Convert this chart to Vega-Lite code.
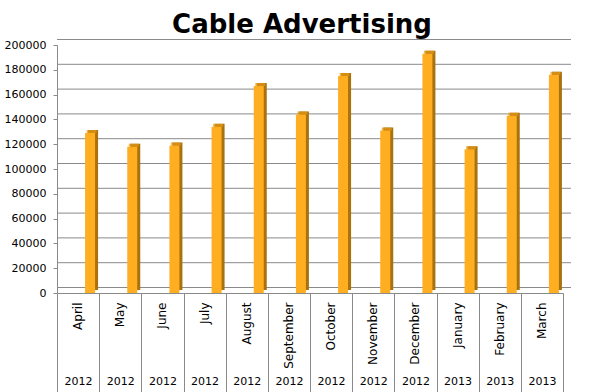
{
  "$schema": "https://vega.github.io/schema/vega-lite/v6.json",
  "width": 506,
  "height": 248,
  "autosize": {"type": "none"},
  "padding": {"left": 57, "top": 45, "right": 28, "bottom": 99},
  "background": "white",
  "title": {
    "text": "Cable Advertising",
    "font": "DejaVu Sans",
    "fontSize": 26,
    "fontWeight": "bold",
    "color": "black",
    "anchor": "middle",
    "dx": -8,
    "baseline": "alphabetic",
    "offset": -20
  },
  "datasets": {
    "sales": [
      {"period": "April 2012", "value": 129000},
      {"period": "May 2012", "value": 118000},
      {"period": "June 2012", "value": 119000},
      {"period": "July 2012", "value": 134000},
      {"period": "August 2012", "value": 167000},
      {"period": "September 2012", "value": 144000},
      {"period": "October 2012", "value": 175000},
      {"period": "November 2012", "value": 131000},
      {"period": "December 2012", "value": 193000},
      {"period": "January 2013", "value": 116000},
      {"period": "February 2013", "value": 143000},
      {"period": "March 2013", "value": 176000}
    ],
    "grid": [
      {"v": 0}, {"v": 20000}, {"v": 40000}, {"v": 60000}, {"v": 80000}, {"v": 100000},
      {"v": 120000}, {"v": 140000}, {"v": 160000}, {"v": 180000}, {"v": 200000}
    ]
  },
  "layer": [
    {
      "data": {"name": "grid"},
      "mark": {"type": "rule", "color": "#8a8a8a", "strokeWidth": 1, "xOffset": 8, "x2Offset": 9, "yOffset": -5.5},
      "encoding": {
        "y": {"field": "v", "type": "quantitative", "scale": {"domain": [0, 200000], "nice": false, "zero": true},
              "axis": {"values": [0,20000,40000,60000,80000,100000,120000,140000,160000,180000,200000], "format": "d", "labelOverlap": false, "title": null}}
      }
    },
    {
      "data": {"name": "sales"},
      "mark": {"type": "bar", "color": "#A8720E", "width": 10, "xOffset": 15, "yOffset": -3, "y2Offset": -3},
      "encoding": {
        "x": {"field": "period", "type": "nominal", "sort": null, "scale": {"paddingInner": 0, "paddingOuter": 0}, "axis": null},
        "y": {"field": "value", "type": "quantitative",
              "axis": {"values": [0,20000,40000,60000,80000,100000,120000,140000,160000,180000,200000], "format": "d", "labelOverlap": false, "title": null}}
      }
    },
    {
      "data": {"name": "sales"},
      "mark": {"type": "tick", "color": "#E59A16", "size": 10, "thickness": 3, "xOffset": 13.5, "yOffset": -1.5},
      "encoding": {
        "x": {"field": "period", "type": "nominal", "sort": null,
              "axis": {"orient": "bottom", "labelExpr": "split(datum.value, ' ')[1]", "labelAngle": 0, "labelPadding": -17, "labelFontSize": 11,
                       "labelBaseline": "top", "domain": false, "ticks": true, "tickBand": "extent", "tickSize": 99, "title": null}},
        "y": {"field": "value", "type": "quantitative",
              "axis": {"values": [0,20000,40000,60000,80000,100000,120000,140000,160000,180000,200000], "format": "d", "labelOverlap": false, "title": null}}
      }
    },
    {
      "data": {"name": "sales"},
      "mark": {"type": "bar", "color": "#FFAD21", "width": 10, "xOffset": 12},
      "encoding": {
        "x": {"field": "period", "type": "nominal", "sort": null,
              "axis": {"orient": "bottom", "labelExpr": "split(datum.value, ' ')[0]", "labelAngle": -90, "labelPadding": 9, "labelFontSize": 12,
                       "ticks": false, "domain": true, "title": null}},
        "y": {"field": "value", "type": "quantitative",
              "axis": {"values": [0,20000,40000,60000,80000,100000,120000,140000,160000,180000,200000], "format": "d", "labelOverlap": false, "title": null}}
      }
    }
  ],
  "resolve": {"axis": {"x": "independent"}},
  "config": {
    "view": {"stroke": null},
    "axis": {
      "labelFont": "DejaVu Sans",
      "labelColor": "black",
      "domainColor": "#8a8a8a",
      "tickColor": "#8a8a8a",
      "grid": false
    },
    "axisY": {"labelFontSize": 11, "tickSize": 4, "labelPadding": 7, "domain": true, "ticks": true, "labelOverlap": false},
    "axisX": {"labelOverlap": false}
  }
}
